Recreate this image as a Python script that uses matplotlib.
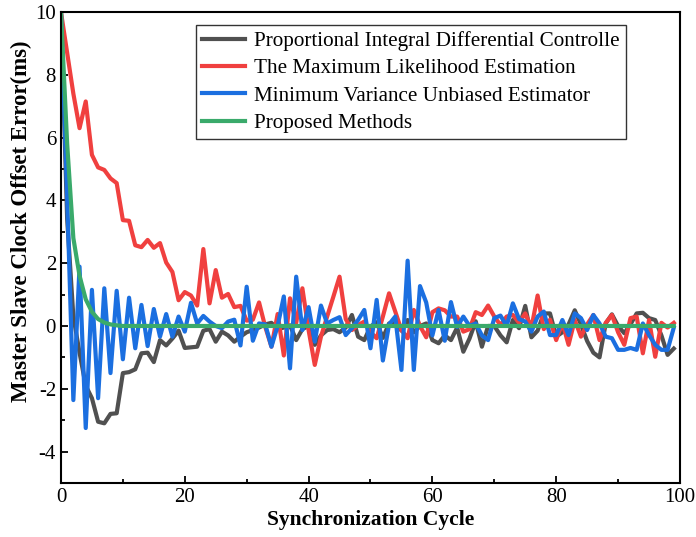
import numpy as np
import matplotlib
matplotlib.use("Agg")
import matplotlib.pyplot as plt
from matplotlib.ticker import MultipleLocator

# Settings
plt.rcParams['font.family'] = ['Liberation Serif', 'DejaVu Serif']
plt.rcParams['axes.unicode_minus'] = False

cycles = np.arange(100)

labels = [
    "Proportional Integral Differential Controlle",
    "The Maximum Likelihood Estimation",
    "Minimum Variance Unbiased Estimator",
    "Proposed Methods",
]
colors = ['#505050', '#f0403f', '#1b6fe0', '#3aaa6b']

# Values (ms), one per synchronization cycle 0..99
pid = [10.0, 3.4, 0.3, -0.85, -1.9, -2.3, -3.05, -3.1, -2.8, -2.78,
       -1.5, -1.47, -1.38, -0.87, -0.85, -1.15, -0.45, -0.62, -0.4, -0.15,
       -0.7, -0.68, -0.66, -0.15, -0.1, -0.5, -0.18, -0.3, -0.5, -0.34,
       -0.2, -0.13, -0.05, 0.05, 0.1, -0.1, -0.05, 0.02, -0.45, -0.1,
       0.0, -0.6, -0.3, -0.13, -0.1, -0.2, -0.05, 0.35, -0.34, -0.45,
       -0.02, 0.12, -0.38, 0.08, 0.12, -0.15, 0.19, -0.2, 0.0, 0.08,
       -0.45, -0.55, -0.3, -0.45, -0.05, -0.82, -0.4, 0.15, -0.66, 0.0,
       0.0, -0.3, -0.52, 0.19, -0.07, 0.64, -0.36, -0.15, 0.4, 0.4,
       -0.34, -0.2, 0.05, 0.5, 0.05, -0.48, -0.85, -1.0, 0.08, 0.37,
       0.0, -0.23, 0.05, 0.4, 0.42, 0.25, 0.19, -0.3, -0.92, -0.72]

mle = [10.0, 8.7, 7.4, 6.3, 7.15, 5.45, 5.05, 4.97, 4.7, 4.55,
       3.37, 3.35, 2.57, 2.51, 2.74, 2.49, 2.64, 2.02, 1.72, 0.82,
       1.08, 0.97, 0.65, 2.45, 0.72, 1.78, 0.9, 1.02, 0.6, 0.64,
       0.17, 0.2, 0.75, -0.03, -0.66, 0.38, -0.94, 0.88, 0.1, 1.2,
       -0.13, -1.24, -0.34, 0.3, 0.93, 1.57, 0.22, -0.13, 0.03, 0.14,
       -0.2, -0.39, 0.3, 1.04, 0.46, -0.13, -0.39, 0.51, 0.0, -0.36,
       0.44, 0.56, 0.5, 0.3, 0.3, -0.18, -0.1, 0.44, 0.35, 0.65,
       0.3, 0.03, 0.3, 0.35, 0.1, 0.4, -0.05, 0.97, -0.1, 0.2,
       -0.45, 0.1, -0.6, 0.19, -0.34, 0.05, 0.35, -0.45, 0.1, 0.35,
       -0.2, -0.6, 0.25, 0.3, -0.87, 0.19, -0.98, 0.1, -0.05, 0.1]

mvue = [10.0, 4.1, -2.36, 1.89, -3.25, 1.15, -2.3, 1.2, -1.5, 1.12,
        -1.06, 0.9, -0.71, 0.67, -0.64, 0.54, -0.34, 0.38, -0.34, 0.3,
        -0.18, 0.74, 0.08, 0.32, 0.14, 0.0, -0.07, 0.14, 0.2, -0.62,
        1.25, -0.47, 0.08, 0.05, -0.66, 0.0, 0.94, -1.35, 1.57, -0.13,
        0.6, -0.5, 0.65, 0.08, 0.19, 0.28, -0.29, -0.07, 0.19, 0.51,
        -0.71, 0.83, -1.1, 0.05, 0.3, -1.4, 2.08, -1.4, 1.27, 0.75,
        -0.3, 0.51, -0.47, 0.76, -0.03, 0.3, 0.0, 0.08, -0.3, -0.45,
        0.25, 0.33, 0.0, 0.72, 0.22, 0.14, -0.18, 0.3, 0.46, -0.29,
        -0.29, 0.19, -0.29, 0.4, 0.25, -0.13, 0.35, 0.08, -0.34, -0.39,
        -0.76, -0.76, -0.7, -0.76, 0.08, -0.29, -0.6, -0.76, -0.76, -0.05]

proposed = [10.0, 5.8, 2.8, 1.6, 0.85, 0.45, 0.22, 0.11, 0.05, 0.02] + [0.0] * 90

series = [pid, mle, mvue, proposed]

fig = plt.figure(figsize=(6.96, 5.37), dpi=100)
ax = fig.add_axes([0.0876, 0.1006, 0.8894, 0.8771])

for vals, lab, col in zip(series, labels, colors):
    ax.plot(cycles, vals, color=col, lw=3.0, label=lab)

ax.set_xlim(0, 100)
ax.set_ylim(-5, 10)
ax.xaxis.set_major_locator(MultipleLocator(20))
ax.xaxis.set_minor_locator(MultipleLocator(10))
ax.yaxis.set_major_locator(MultipleLocator(2))
ax.yaxis.set_minor_locator(MultipleLocator(1))
ax.tick_params(which='both', direction='in', top=False, right=False, labelsize=15, width=1.3)
ax.tick_params(which='major', length=5)
ax.tick_params(which='minor', length=3)
for sp in ax.spines.values():
    sp.set_linewidth(1.5)

ax.set_xlabel("Synchronization Cycle", fontsize=15.5, fontweight='bold', labelpad=2)
ax.set_ylabel("Master Slave Clock Offset Error(ms)", fontsize=16.5, fontweight='bold')
ax.yaxis.set_label_coords(-0.047, 0.555)

leg = ax.legend(loc='upper right', bbox_to_anchor=(0.913, 0.973), fontsize=15.2,
                fancybox=False, edgecolor='#333333', framealpha=1,
                handlelength=2.0, handletextpad=0.45, borderpad=0.3, labelspacing=0.36,
                borderaxespad=0)
leg.get_frame().set_linewidth(1.0)

fig.savefig("out.png", dpi=100)
